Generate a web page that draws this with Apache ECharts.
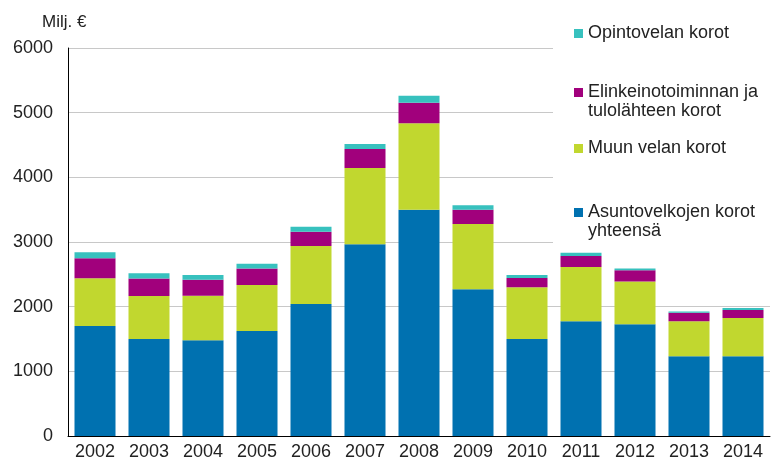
<!DOCTYPE html>
<html>
<head>
<meta charset="utf-8">
<script src="https://cdn.jsdelivr.net/npm/echarts@6/dist/echarts.min.js"></script>
<style>
  html, body { margin: 0; padding: 0; background: #fff; }
  #chart { width: 772px; height: 461px; }
</style>
</head>
<body>
<div id="chart"></div>
<script>
const years = ['2002', '2003', '2004', '2005', '2006', '2007', '2008', '2009', '2010', '2011', '2012', '2013', '2014'];

// Milj. €
const asunto = [1700, 1500, 1480, 1625, 2040, 2965, 3500, 2270, 1500, 1775, 1730, 1235, 1235];
const muun = [740, 665, 690, 710, 900, 1180, 1335, 1010, 800, 840, 660, 540, 590];
const elinkeino = [310, 270, 245, 255, 220, 295, 320, 220, 145, 170, 175, 130, 125];
const opinto = [90, 80, 75, 75, 75, 75, 105, 70, 45, 50, 25, 20, 30];

const names = {
  asunto: 'Asuntovelkojen korot\nyhteensä',
  muun: 'Muun velan korot',
  elinkeino: 'Elinkeinotoiminnan ja\ntulolähteen korot',
  opinto: 'Opintovelan korot'
};

const colors = {
  asunto: '#0071b0',
  muun: '#c1d72f',
  elinkeino: '#a1007c',
  opinto: '#37c1be'
};

const font = 'Liberation Sans, Arial, sans-serif';
const textColor = '#222';

const chart = echarts.init(document.getElementById('chart'));

function bar(key, data) {
  return {
    name: names[key],
    type: 'bar',
    stack: 'total',
    barWidth: 41,
    itemStyle: { color: colors[key] },
    data
  };
}

// one legend per entry so the spacing can follow the picture
function legendAt(key, top, twoLines) {
  return {
    data: [names[key]],
    left: 574,
    top,
    padding: 0,
    itemWidth: 9,
    itemHeight: 9,
    itemGap: 0,
    icon: 'rect',
    selectedMode: false,
    // blank first line keeps the marker level with the first text line
    formatter: twoLines ? (n) => '\n' + n : undefined,
    textStyle: {
      fontFamily: font,
      fontSize: 18,
      color: textColor,
      lineHeight: 19
    }
  };
}

chart.setOption({
  animation: false,
  textStyle: { fontFamily: font },
  title: {
    text: 'Milj. €',
    left: 37,
    top: 9,
    textStyle: { fontFamily: font, fontSize: 17, fontWeight: 'normal', color: textColor }
  },
  grid: { left: 68, right: 2, top: 48, bottom: 24, containLabel: false },
  legend: [
    legendAt('opinto', 24),
    legendAt('elinkeino', 64, true),
    legendAt('muun', 139),
    legendAt('asunto', 184, true)
  ],
  graphic: [{
    type: 'rect',
    z: 1,
    shape: { x: 553, y: 0, width: 219, height: 248 },
    style: { fill: '#fff' }
  }],
  xAxis: {
    type: 'category',
    data: years,
    axisLine: { lineStyle: { color: '#000', width: 1 } },
    axisTick: { show: false },
    axisLabel: { fontFamily: font, fontSize: 18, color: textColor, margin: 7 }
  },
  yAxis: {
    type: 'value',
    min: 0,
    max: 6000,
    interval: 1000,
    axisLine: { show: true, lineStyle: { color: '#000', width: 1 } },
    axisTick: { show: false },
    axisLabel: {
      fontFamily: font,
      fontSize: 18,
      color: textColor,
      margin: 15,
      formatter: (v) => String(v)
    },
    splitLine: { lineStyle: { color: '#c8c8c8', width: 1 } }
  },
  series: [
    bar('asunto', asunto),
    bar('muun', muun),
    bar('elinkeino', elinkeino),
    bar('opinto', opinto)
  ]
});

window.addEventListener('resize', () => chart.resize());
</script>
</body>
</html>
